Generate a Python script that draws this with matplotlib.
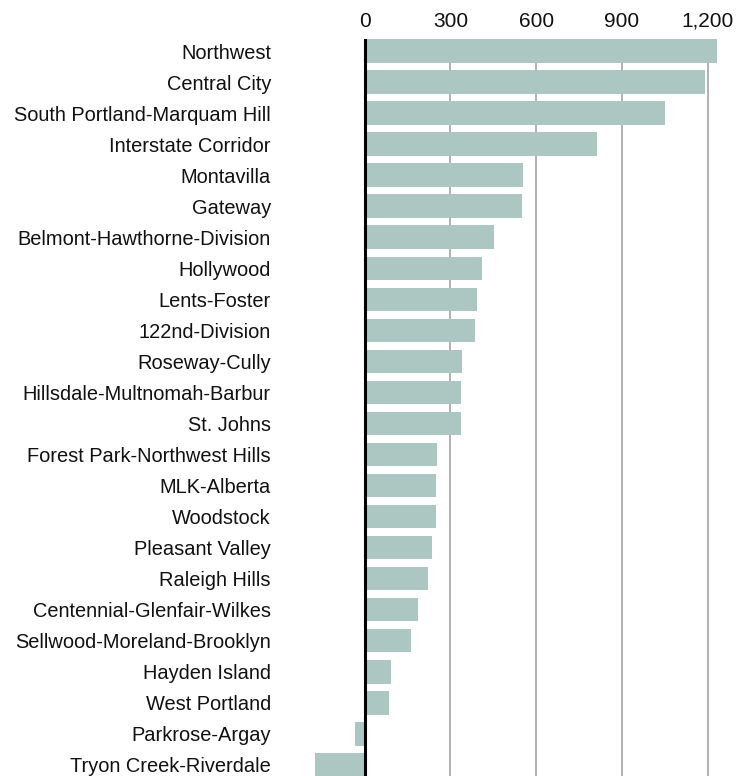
import matplotlib.pyplot as plt

plt.rcParams['font.family'] = ['Liberation Sans', 'DejaVu Sans']

neighborhoods = [
    "Northwest", "Central City", "South Portland-Marquam Hill", "Interstate Corridor",
    "Montavilla", "Gateway", "Belmont-Hawthorne-Division", "Hollywood",
    "Lents-Foster", "122nd-Division", "Roseway-Cully", "Hillsdale-Multnomah-Barbur",
    "St. Johns", "Forest Park-Northwest Hills", "MLK-Alberta", "Woodstock",
    "Pleasant Valley", "Raleigh Hills", "Centennial-Glenfair-Wilkes",
    "Sellwood-Moreland-Brooklyn", "Hayden Island", "West Portland",
    "Parkrose-Argay", "Tryon Creek-Riverdale",
]
values = [1233, 1191, 1052, 814, 554, 551, 453, 411, 393, 386, 341, 337, 337,
          253, 250, 250, 236, 222, 187, 162, 92, 85, -34, -174]
ticks = [0, 300, 600, 900, 1200]

W, H = 744, 776
fig = plt.figure(figsize=(W / 100, H / 100), dpi=100)
ax = fig.add_axes([315 / W, 0, (717 - 315) / W, (776 - 39.3) / H])

y = list(range(len(values)))
ax.barh(y, values, height=0.76, color='#acc6c2', zorder=2)
ax.set_xlim(min(values), max(values))
ax.set_ylim(23.36, -0.38)

for t in ticks:
    ax.axvline(t, color='#a3a3a3', lw=1.2, zorder=1)
ax.axvline(0, color='black', lw=2.2, zorder=3)

ax.set_yticks(y)
ax.set_yticklabels(neighborhoods, fontsize=14.4, color='#111111')
ax.tick_params(axis='y', length=0, pad=31.7)

ax.xaxis.tick_top()
ax.set_xticks(ticks)
ax.set_xticklabels([f"{t:,}" for t in ticks], fontsize=15, color='#111111')
ax.tick_params(axis='x', length=0, pad=6)

for s in ax.spines.values():
    s.set_visible(False)

fig.savefig("out.png", dpi=100)
